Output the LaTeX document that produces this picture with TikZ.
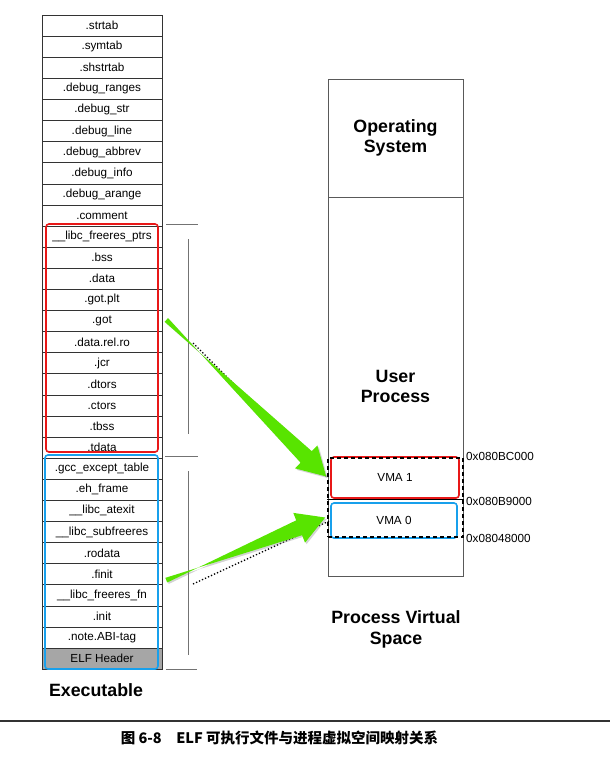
\documentclass[tikz,border=0pt]{standalone}
\usepackage{fontspec}
\setmainfont{Liberation Sans}
\newfontfamily\cjk{Noto Sans CJK SC}
\usetikzlibrary{calc,shadows}
\definecolor{segred}{RGB}{232,24,24}
\definecolor{segblue}{RGB}{24,160,236}
\definecolor{arrowgreen}{RGB}{88,228,0}
% tapered green arrow: #1 tail, #2 tip
\newcommand\fatarrow[2]{%
  \coordinate (hb) at ($(#2)!28pt!(#1)$);
  \fill[arrowgreen, drop shadow={opacity=0.35, shadow xshift=1.5pt, shadow yshift=-1.5pt}]
    ($(#1)!2.5pt!-90:(#2)$) -- ($(hb)!8pt!90:(#2)$) -- ($(hb)!16pt!90:(#2)$) -- (#2)
    -- ($(hb)!16pt!-90:(#2)$) -- ($(hb)!8pt!-90:(#2)$) -- ($(#1)!2.5pt!90:(#2)$) -- cycle;}
\begin{document}
\begin{tikzpicture}[x=1pt, y=-1pt,
    sec/.style={draw=black!80, line width=0.6pt, minimum width=120pt, minimum height=21.1pt,
      inner sep=0pt, font=\fontsize{11.7}{12}\selectfont},
    small/.style={inner sep=0pt, font=\fontsize{11.7}{12}\selectfont},
    bigtext/.style={inner sep=0pt, align=center, font=\fontsize{17.8}{20.5}\selectfont\bfseries},
    region/.style={draw=black!65, line width=0.7pt, minimum width=135pt, inner sep=0pt, align=center,
      font=\fontsize{17.8}{20.5}\selectfont\bfseries},
    bracket/.style={draw=black!55, line width=0.7pt}]
  \useasboundingbox (0,0) rectangle (610,758);
  % executable file sections
  \node [sec] (strtab) at (102,25.55) {.strtab};
  \node [sec] (symtab) at (102,46.65) {.symtab};
  \node [sec] (shstrtab) at (102,67.75) {.shstrtab};
  \node [sec] (dbgranges) at (102,88.85) {.debug\_ranges};
  \node [sec] (dbgstr) at (102,109.95) {.debug\_str};
  \node [sec] (dbgline) at (102,131.05) {.debug\_line};
  \node [sec] (dbgabbrev) at (102,152.15) {.debug\_abbrev};
  \node [sec] (dbginfo) at (102,173.25) {.debug\_info};
  \node [sec] (dbgarange) at (102,194.35) {.debug\_arange};
  \node [sec] (comment) at (102,215.45) {.comment};
  \node [sec] (libcptrs) at (102,236.55) {\_\_libc\_freeres\_ptrs};
  \node [sec] (bss) at (102,257.65) {.bss};
  \node [sec] (data) at (102,278.75) {.data};
  \node [sec] (gotplt) at (102,299.85) {.got.plt};
  \node [sec] (got) at (102,320.95) {.got};
  \node [sec] (datarelro) at (102,342.05) {.data.rel.ro};
  \node [sec] (jcr) at (102,363.15) {.jcr};
  \node [sec] (dtors) at (102,384.25) {.dtors};
  \node [sec] (ctors) at (102,405.35) {.ctors};
  \node [sec] (tbss) at (102,426.45) {.tbss};
  \node [sec] (tdata) at (102,447.55) {.tdata};
  \node [sec] (gccexcept) at (102,468.65) {.gcc\_except\_table};
  \node [sec] (ehframe) at (102,489.75) {.eh\_frame};
  \node [sec] (libcatexit) at (102,510.85) {\_\_libc\_atexit};
  \node [sec] (libcsubfree) at (102,531.95) {\_\_libc\_subfreeres};
  \node [sec] (rodata) at (102,553.05) {.rodata};
  \node [sec] (finit) at (102,574.15) {.finit};
  \node [sec] (libcfreefn) at (102,595.25) {\_\_libc\_freeres\_fn};
  \node [sec] (init) at (102,616.35) {.init};
  \node [sec] (abitag) at (102,637.45) {.note.ABI-tag};
  \node [sec, fill=black!35] (elfhdr) at (102,658.55) {ELF Header};
  % segment frames
  \node [draw=segred, line width=1.6pt, rounded corners=3pt, minimum width=112pt, minimum height=228pt] (rwseg) at (102,338) {};
  \node [draw=segblue, line width=1.6pt, rounded corners=3pt, minimum width=113pt, minimum height=214pt] (roseg) at (101.5,562) {};
  \node [bigtext] (exe) at (96,690) {Executable};
  % brackets
  \draw [bracket] (166,224) -- (198,224);
  \draw [bracket] (188,239) -- (188,434);
  \draw [bracket] (165,456) -- (198,456);
  \draw [bracket] (188,471) -- (188,655);
  \draw [bracket] (166,669) -- (197,669);
  % process virtual space
  \node [region, minimum height=118pt] (os) at (395.5,138) {Operating\\System};
  \node [region, minimum height=379pt] (user) at (395.5,386.5) {User\\Process};
  \node [small, draw=segred, line width=1.6pt, rounded corners=3pt, fill=white, minimum width=128pt, minimum height=41pt] (vma1) at (395,477.5) {VMA 1};
  \node [small, draw=segblue, line width=1.6pt, rounded corners=3pt, fill=white, minimum width=126pt, minimum height=35pt] (vma0) at (394,520.5) {VMA 0};
  \node [draw, line width=1.2pt, dash pattern=on 4pt off 3pt, minimum width=135pt, minimum height=79pt] (vmabox) at (395.5,497.5) {};
  \draw [line width=0.8pt] (vmabox.west |- 0,499) -- (vmabox.east |- 0,499);
  \node [small, anchor=west] (addrtop) at (466,456) {0x080BC000};
  \node [small, anchor=west] (addrmid) at (466,501) {0x080B9000};
  \node [small, anchor=west] (addrlow) at (466,538) {0x08048000};
  \node [bigtext] (pvs) at (396,629.5) {Process Virtual\\Space};
  % mappings
  \coordinate (upTail) at ($(got.east)+(4,-1)$);
  \coordinate (upTip) at ($(vma1.west)+(-4,-1)$);
  \coordinate (lowTail) at ($(finit.east)+(4,6)$);
  \coordinate (lowTip) at ($(vma0.west)+(-5,-3)$);
  \coordinate (upDot) at (193,343);
  \coordinate (lowDot) at (193,584);
  \draw [dotted, line width=1.3pt] (upDot) -- (upTip);
  \draw [dotted, line width=1.3pt] (lowDot) -- (vma0.west);
  \fatarrow{upTail}{upTip}
  \fatarrow{lowTail}{lowTip}
  % caption
  \draw [line width=1.3pt, black!80] (0,721) -- (610,721);
  \node [inner sep=0pt, font=\fontsize{14.5}{16}\selectfont\cjk\bfseries] (caption) at (279.5,738) {图 6-8\quad ELF 可执行文件与进程虚拟空间映射关系};
\end{tikzpicture}
\end{document}
